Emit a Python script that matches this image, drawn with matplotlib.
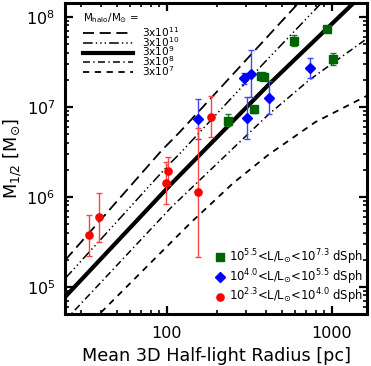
import numpy as np
import matplotlib
matplotlib.use("Agg")
import matplotlib.pyplot as plt
from matplotlib.ticker import NullFormatter

plt.rcParams['font.family'] = ['DejaVu Sans']
plt.rcParams['lines.scale_dashes'] = False
plt.rcParams['mathtext.default'] = 'regular'

# ---------------- data ----------------
# halo mass curves (r [pc], M1/2 [Msun])
halo_title = r'M$_{halo}$/M$_{\odot}$ ='
halo_labels = [r'3x10$^{11}$', r'3x10$^{10}$', r'3x10$^{9}$', r'3x10$^{8}$', r'3x10$^{7}$']
curve_3e11_r = [24.2, 93.3, 120, 611, 661]
curve_3e11_m = [1.98e5, 3.30e6, 5.27e6, 1.35e8, 1.58e8]
curve_3e10_r = [24.2, 102, 120, 393, 912]
curve_3e10_m = [1.24e5, 2.25e6, 3.03e6, 3.15e7, 1.58e8]
curve_3e9_r = [24.2, 107, 421, 1346, 1585]
curve_3e9_m = [7.74e4, 1.41e6, 1.82e7, 1.41e8, 1.86e8]
curve_3e8_r = [24.0, 26.5, 107, 411, 728, 1585, 1660]
curve_3e8_m = [4.15e4, 5.06e4, 7.74e5, 8.15e6, 1.98e7, 5.51e7, 5.85e7]
curve_3e7_r = [35.5, 39.3, 138, 251, 409, 794, 1585, 1660]
curve_3e7_m = [4.17e4, 5.06e4, 5.06e5, 1.41e6, 2.90e6, 6.76e6, 1.29e7, 1.35e7]

# dwarf spheroidals
red_r = [33.8, 38.9, 98.6, 101.8, 153.5, 184.8]
red_m = [3.8e5, 5.9e5, 1.41e6, 1.94e6, 1.12e6, 7.74e6]
red_lo = [2.2e5, 3.16e5, 8.3e5, 1.36e6, 2.15e5, 4.64e6]
red_hi = [6.27e5, 1.09e6, 2.41e6, 2.78e6, 5.8e6, 1.32e7]

blue_r = [155, 293, 321, 305.6, 415, 733]
blue_m = [7.3e6, 2.07e7, 2.31e7, 7.43e6, 1.24e7, 2.71e7]
blue_lo = [4.35e6, 1.79e7, 1.29e7, 4.35e6, 8.24e6, 2.1e7]
blue_hi = [1.21e7, 2.39e7, 4.27e7, 1.29e7, 1.93e7, 3.5e7]

green_r = [235.5, 335, 373, 387, 586, 933, 1009]
green_m = [6.99e6, 9.36e6, 2.19e7, 2.15e7, 5.41e7, 7.25e7, 3.39e7]
green_lo = [6.1e6, 8.6e6, 1.98e7, 1.98e7, 4.72e7, 6.8e7, 2.9e7]
green_hi = [8.24e6, 1.02e7, 2.39e7, 2.39e7, 6.27e7, 7.7e7, 3.98e7]

group_labels = [r'10$^{5.5}$<L/L$_{\odot}$<10$^{7.3}$ dSph',
                r'10$^{4.0}$<L/L$_{\odot}$<10$^{5.5}$ dSph',
                r'10$^{2.3}$<L/L$_{\odot}$<10$^{4.0}$ dSph']

xtick_vals = [100, 1000]
xtick_labels = ['100', '1000']

# ---------------- figure ----------------
W, H = 371, 366
fig = plt.figure(figsize=(W / 100, H / 100), dpi=100)
ax = fig.add_axes([65 / W, 1 - 314 / H, 302 / W, 311 / H])
ax.set_xscale('log')
ax.set_yscale('log')
ax.set_xlim(24.1, 1630)
ax.set_ylim(4.98e4, 1.42e8)

styles = [
    dict(color='k', lw=1.3, dashes=(8, 4)),
    dict(color='k', lw=1.1, dashes=(7, 2.2, 1, 2.2, 1, 2.2, 1, 2.2)),
    dict(color='k', lw=3.0, linestyle='-'),
    dict(color='k', lw=1.1, dashes=(5, 2.4, 1, 2.4)),
    dict(color='k', lw=1.3, dashes=(4.5, 4)),
]
curves = [(curve_3e11_r, curve_3e11_m), (curve_3e10_r, curve_3e10_m),
          (curve_3e9_r, curve_3e9_m), (curve_3e8_r, curve_3e8_m),
          (curve_3e7_r, curve_3e7_m)]
handles = []
for (r, m), st, lab in zip(curves, styles, halo_labels):
    ln, = ax.plot(r, m, label=lab, **st)
    handles.append(ln)


def errs(m, lo, hi):
    m = np.array(m); lo = np.array(lo); hi = np.array(hi)
    return [m - lo, hi - m]


green_c = '#006400'
blue_c = '#0000ff'
red_c = '#ff0000'
ax.errorbar(green_r, green_m, yerr=errs(green_m, green_lo, green_hi), fmt='none',
            ecolor='#1f7a1f', elinewidth=1.0, capsize=2.2, capthick=1.0, zorder=4)
ax.errorbar(blue_r, blue_m, yerr=errs(blue_m, blue_lo, blue_hi), fmt='none',
            ecolor='#4444ff', elinewidth=1.0, capsize=2.2, capthick=1.0, zorder=4)
ax.errorbar(red_r, red_m, yerr=errs(red_m, red_lo, red_hi), fmt='none',
            ecolor='#ff4444', elinewidth=1.0, capsize=2.2, capthick=1.0, zorder=4)
g = ax.plot(green_r, green_m, 's', color=green_c, ms=6, mec=green_c, zorder=5)[0]
b = ax.plot(blue_r, blue_m, 'D', color=blue_c, ms=5.4, mec=blue_c, zorder=5)[0]
r_ = ax.plot(red_r, red_m, 'o', color=red_c, ms=5.2, mec=red_c, zorder=5)[0]

# axes styling
for sp in ax.spines.values():
    sp.set_linewidth(2.2)
ax.tick_params(which='both', direction='in', top=True, right=True)
ax.tick_params(which='major', length=5.5, width=1.6, labelsize=11.5, pad=7)
ax.tick_params(which='minor', length=2.6, width=1.2)
ax.set_xticks(xtick_vals, labels=xtick_labels)
ax.xaxis.set_minor_formatter(NullFormatter())
ax.tick_params(axis='x', pad=9)

ax.set_xlabel('Mean 3D Half-light Radius [pc]', fontsize=12.7, labelpad=4)
ax.set_ylabel(r'M$_{1/2}$ [M$_{\odot}$]', fontsize=12.7, labelpad=2)

ax.text(0.06, 0.952, halo_title, transform=ax.transAxes, fontsize=7.4,
        ha='left', va='center')
leg1 = ax.legend(handles=handles, loc='upper left', bbox_to_anchor=(0.042, 0.946),
                 frameon=False, fontsize=7.6, borderpad=0,
                 handlelength=4.7, handletextpad=0.9, labelspacing=-0.39)
ax.add_artist(leg1)
leg2 = ax.legend(handles=[g, b, r_], labels=group_labels, loc='lower right',
                 bbox_to_anchor=(1.006, 0.006), borderpad=0,
                 frameon=False, fontsize=8.4, handlelength=0.8, handletextpad=0.4,
                 labelspacing=0.0)

fig.savefig('out.png', dpi=100)
